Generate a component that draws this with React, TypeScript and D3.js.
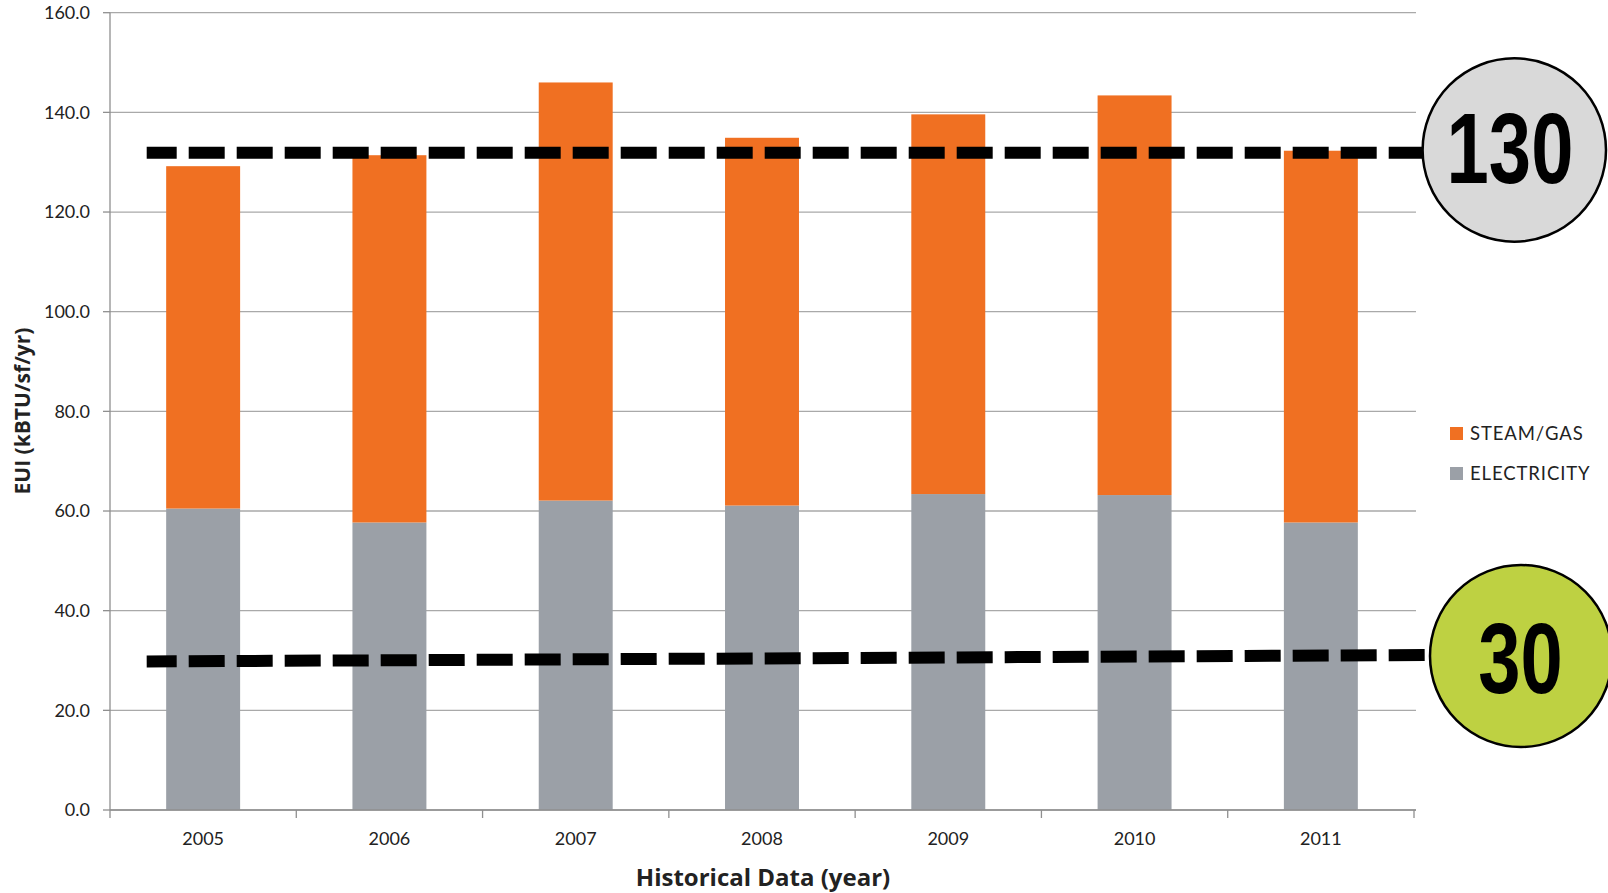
import React from "react";
import * as d3 from "d3";

// Energy use intensity by year, split into electricity and steam/gas
const years = ["2005", "2006", "2007", "2008", "2009", "2010", "2011"];
const electricity = [60.5, 57.7, 62.1, 61.1, 63.4, 63.2, 57.7];
const totals = [129.2, 131.4, 146.0, 134.9, 139.6, 143.4, 132.3];
const steamGas = totals.map((t, i) => +(t - electricity[i]).toFixed(1));

const yTicks = [0, 20, 40, 60, 80, 100, 120, 140, 160];
const seriesNames = ["STEAM/GAS", "ELECTRICITY"];
const seriesColors = ["#f07022", "#9ba0a7"];

// Target levels: badge values and the dashed guide lines (start/end levels)
const targetBadges = ["130", "30"];
const targetStart = [131.9, 29.8];
const targetEnd = [131.9, 31.1];
const badgeFills = ["#d9d9d9", "#bed142"];

const W = 1608;
const H = 893;
const left = 110;
const right = 1414;
const top = 12.7;
const bottom = 810;

const FONT = "Lato, 'Open Sans', sans-serif";
const FONT_WIDE = "'Open Sans', Lato, sans-serif";

export default function App() {
  const x = d3.scaleBand<string>().domain(years).range([left, right]).paddingInner(0.603).paddingOuter(0.3015);
  const y = d3.scaleLinear().domain([0, 160]).range([bottom, top]);

  const stacked = d3.stack<any>().keys(["electricity", "steam"])(
    years.map((yr, i) => ({ year: yr, electricity: electricity[i], steam: steamGas[i] }))
  );
  const layerColor: Record<string, string> = { electricity: seriesColors[1], steam: seriesColors[0] };

  const lineX0 = 146.7;
  const lineEnds = [1423, 1430];
  const badgeCx = [1514.3, 1521];
  const badgeCy = [150, 656];
  const badgeR = [91.7, 91];
  const badgeBaseline = [183.3, 693];
  const badgeTextX = [1510, 1520.5];

  const catStep = x.step();
  const boundaries = d3.range(years.length + 1).map((k) => left + k * catStep);

  return (
    <svg width={W} height={H} style={{ position: "absolute", left: 0, top: 0, background: "#fff" }}>
      {/* gridlines */}
      {yTicks.map((t) => (
        <line key={"g" + t} x1={left} x2={1416} y1={y(t)} y2={y(t)} stroke="#a9a9a9" strokeWidth={1.3} />
      ))}
      {/* y axis */}
      <line x1={left} x2={left} y1={top} y2={bottom} stroke="#8f8f8f" strokeWidth={1.3} />
      {yTicks.map((t) => (
        <g key={"yt" + t}>
          <line x1={103} x2={left} y1={y(t)} y2={y(t)} stroke="#8f8f8f" strokeWidth={1.3} />
          <text x={90} y={y(t)} dy="0.35em" textAnchor="end" fontFamily={FONT} fontSize={18} fill="#222">
            {t.toFixed(1)}
          </text>
        </g>
      ))}
      {/* bars */}
      {stacked.map((layer) =>
        layer.map((d, i) => (
          <rect
            key={layer.key + i}
            x={x(years[i])}
            width={x.bandwidth()}
            y={y(d[1])}
            height={y(d[0]) - y(d[1])}
            fill={layerColor[layer.key]}
          />
        ))
      )}
      {/* x axis */}
      <line x1={left} x2={1416} y1={bottom} y2={bottom} stroke="#8f8f8f" strokeWidth={1.3} />
      {boundaries.map((bx, k) => (
        <line key={"xt" + k} x1={bx} x2={bx} y1={bottom} y2={bottom + 8} stroke="#8f8f8f" strokeWidth={1.3} />
      ))}
      {years.map((yr) => (
        <text
          key={"xl" + yr}
          x={(x(yr) as number) + x.bandwidth() / 2}
          y={845}
          textAnchor="middle"
          fontFamily={FONT}
          fontSize={18}
          fill="#222"
        >
          {yr}
        </text>
      ))}
      {/* axis titles */}
      <text x={763} y={886} textAnchor="middle" fontFamily={FONT_WIDE} fontWeight={700} fontSize={24} fill="#222">
        Historical Data (year)
      </text>
      <text
        transform={`translate(30,411) rotate(-90)`}
        textAnchor="middle"
        fontFamily={FONT_WIDE}
        fontWeight={700}
        fontSize={21}
        fill="#222"
      >
        EUI (kBTU/sf/yr)
      </text>
      {/* legend */}
      {seriesNames.map((name, i) => (
        <g key={name}>
          <rect x={1450} y={427 + i * 40} width={13} height={13} fill={seriesColors[i]} />
          <text x={1470} y={440 + i * 40} fontFamily={FONT} fontSize={18.5} letterSpacing={0.9} fill="#222">
            {name}
          </text>
        </g>
      ))}
      {/* target guide lines and badges */}
      {targetBadges.map((label, i) => (
        <g key={"tg" + label}>
          <line
            x1={lineX0}
            x2={lineEnds[i]}
            y1={y(targetStart[i])}
            y2={y(targetEnd[i])}
            stroke="#000"
            strokeWidth={12}
            strokeDasharray="36 12"
            strokeDashoffset={6}
          />
          <circle cx={badgeCx[i]} cy={badgeCy[i]} r={badgeR[i]} fill={badgeFills[i]} stroke="#000" strokeWidth={2.5} />
          <text
            transform={`translate(${badgeTextX[i]},${badgeBaseline[i]}) scale(0.76,1)`}
            textAnchor="middle"
            fontFamily="'Liberation Sans', Arial, sans-serif"
            fontWeight={700}
            fontSize={100}
            fill="#000"
          >
            {label}
          </text>
        </g>
      ))}
    </svg>
  );
}
